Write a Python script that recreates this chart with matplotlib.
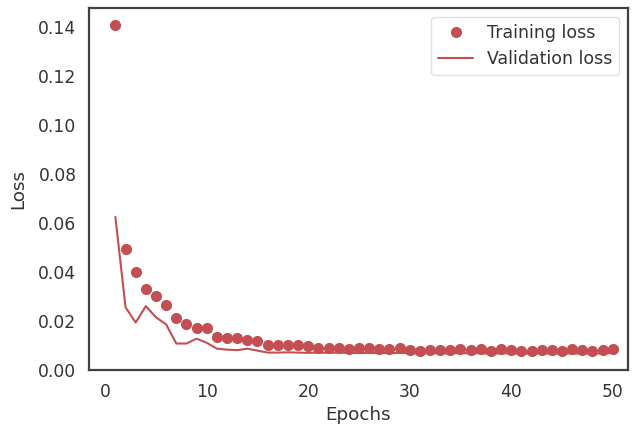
import matplotlib
matplotlib.use("Agg")
import matplotlib.pyplot as plt
import seaborn as sns

epochs = list(range(1, 51))
training_loss = [
    0.141, 0.0495, 0.0400, 0.0330, 0.0300, 0.0265, 0.0210, 0.0185, 0.0172, 0.0172,
    0.0135, 0.0130, 0.0130, 0.0123, 0.0118, 0.0103, 0.0103, 0.0100, 0.0100, 0.0095,
    0.0090, 0.0088, 0.0090, 0.0086, 0.0088, 0.0088, 0.0085, 0.0085, 0.0088, 0.0080,
    0.0078, 0.0082, 0.0080, 0.0080, 0.0083, 0.0080, 0.0086, 0.0078, 0.0084, 0.0082,
    0.0078, 0.0076, 0.0081, 0.0080, 0.0078, 0.0083, 0.0080, 0.0078, 0.0082, 0.0085,
]
validation_loss = [
    0.0624, 0.0255, 0.0193, 0.0260, 0.0214, 0.0185, 0.0107, 0.0107, 0.0127, 0.0110,
    0.0086, 0.0082, 0.0080, 0.0086, 0.0078, 0.0070, 0.0070, 0.0071, 0.0070, 0.0069,
    0.0070, 0.0069, 0.0070, 0.0069, 0.0068, 0.0069, 0.0068, 0.0068, 0.0069, 0.0067,
    0.0067, 0.0068, 0.0067, 0.0067, 0.0068, 0.0067, 0.0068, 0.0066, 0.0067, 0.0067,
    0.0066, 0.0066, 0.0067, 0.0066, 0.0066, 0.0067, 0.0066, 0.0066, 0.0067, 0.0068,
]

sns.set_style("white")
plt.rcParams["font.family"] = ["DejaVu Sans"]

red = (0.769, 0.306, 0.322)

fig = plt.figure(figsize=(6.33, 4.30), dpi=100)
ax = fig.add_axes([0.1406, 0.1395, 0.8514, 0.8415])

ax.plot(epochs, training_loss, "o", color=red, markersize=7, label="Training loss")
ax.plot(epochs, validation_loss, "-", color=red, linewidth=1.5, label="Validation loss")

for s in ax.spines.values():
    s.set_color("0.25")
    s.set_linewidth(1.6)

ax.set_xlim(-1.6, 51.5)
ax.set_xticks([0, 10, 20, 30, 40, 50])
ax.set_yticks([0.00, 0.02, 0.04, 0.06, 0.08, 0.10, 0.12, 0.14])
ax.set_yticklabels(["0.00", "0.02", "0.04", "0.06", "0.08", "0.10", "0.12", "0.14"])
ax.tick_params(axis="both", labelsize=12.3, colors="0.2", pad=9, length=0)
ax.set_xlabel("Epochs", fontsize=13.2, color="0.2", labelpad=4)
ax.set_ylabel("Loss", fontsize=13.2, color="0.2", labelpad=8)

leg = ax.legend(loc="upper right", fontsize=12.5, frameon=True)
leg.get_frame().set_edgecolor("0.85")
for t in leg.get_texts():
    t.set_color("0.2")

fig.savefig("out.png", dpi=100)
